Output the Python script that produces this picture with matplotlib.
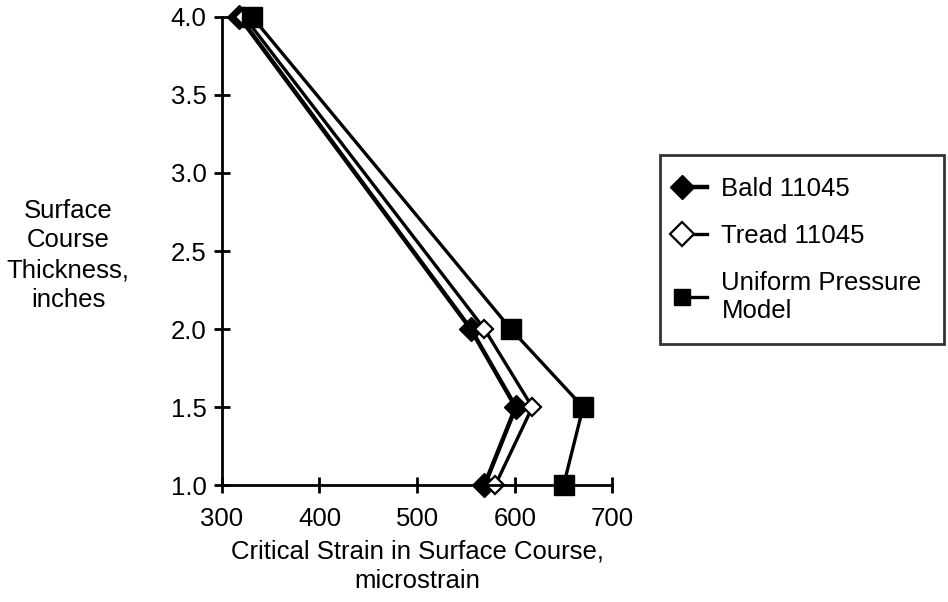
import matplotlib.pyplot as plt
from matplotlib.legend_handler import HandlerLine2D

plt.rcParams['font.family'] = ['Liberation Sans', 'DejaVu Sans']

thickness = [4.0, 2.0, 1.5, 1.0]
bald = [318, 555, 601, 569]
tread = [323, 569, 618, 580]
uniform = [331, 596, 670, 650]


class MarkerLeft(HandlerLine2D):
    # legend key with the marker at the left end of its short line
    def create_artists(self, *args, **kwargs):
        artists = super().create_artists(*args, **kwargs)
        for a in artists:
            a.set_markevery([0])
        return artists


fig = plt.figure(figsize=(9.48, 6.02), dpi=100)
ax = fig.add_axes([0.234, 0.194, 0.412, 0.778])

ax.plot(bald, thickness, color='black', lw=3.2, marker='D', ms=12,
        mfc='black', mec='black', clip_on=False, label='Bald 11045')
ax.plot(tread, thickness, color='black', lw=2.4, marker='D', ms=9,
        mfc='white', mec='black', mew=1.6, clip_on=False, label='Tread 11045')
ax.plot(uniform, thickness, color='black', lw=2.4, marker='s', ms=15,
        mfc='black', mec='black', clip_on=False, label='Uniform Pressure\nModel')

ax.set_xlim(300, 700)
ax.set_ylim(1.0, 4.0)
ax.set_xticks([300, 400, 500, 600, 700])
ax.set_yticks([1.0, 1.5, 2.0, 2.5, 3.0, 3.5, 4.0])
ax.set_yticklabels(['1.0', '1.5', '2.0', '2.5', '3.0', '3.5', '4.0'])
for s in ['top', 'right']:
    ax.spines[s].set_visible(False)
for s in ['left', 'bottom']:
    ax.spines[s].set_linewidth(2)
ax.tick_params(direction='inout', length=12, width=2, labelsize=18.5)
ax.tick_params(axis='x', pad=10)
ax.tick_params(axis='y', pad=5)

ax.set_xlabel('Critical Strain in Surface Course,\nmicrostrain', fontsize=18.5,
              labelpad=6, linespacing=1.3)
fig.text(0.072, 0.576, 'Surface\nCourse\nThickness,\ninches', ha='center',
         va='center', fontsize=18.5, linespacing=1.3)

leg = fig.legend(loc='upper left', bbox_to_anchor=(0.696, 0.743), fontsize=18.5,
                 frameon=True, fancybox=False, edgecolor='black',
                 handlelength=1.0, handletextpad=0.55, numpoints=1,
                 borderpad=0.85, labelspacing=0.9, borderaxespad=0,
                 handler_map={plt.Line2D: MarkerLeft()})
leg.get_frame().set_linewidth(2)
for t in leg.get_texts():
    t.set_linespacing(1.2)
for h in leg.legend_handles:
    h.set_markersize(12)

fig.savefig('out.png', dpi=100)
